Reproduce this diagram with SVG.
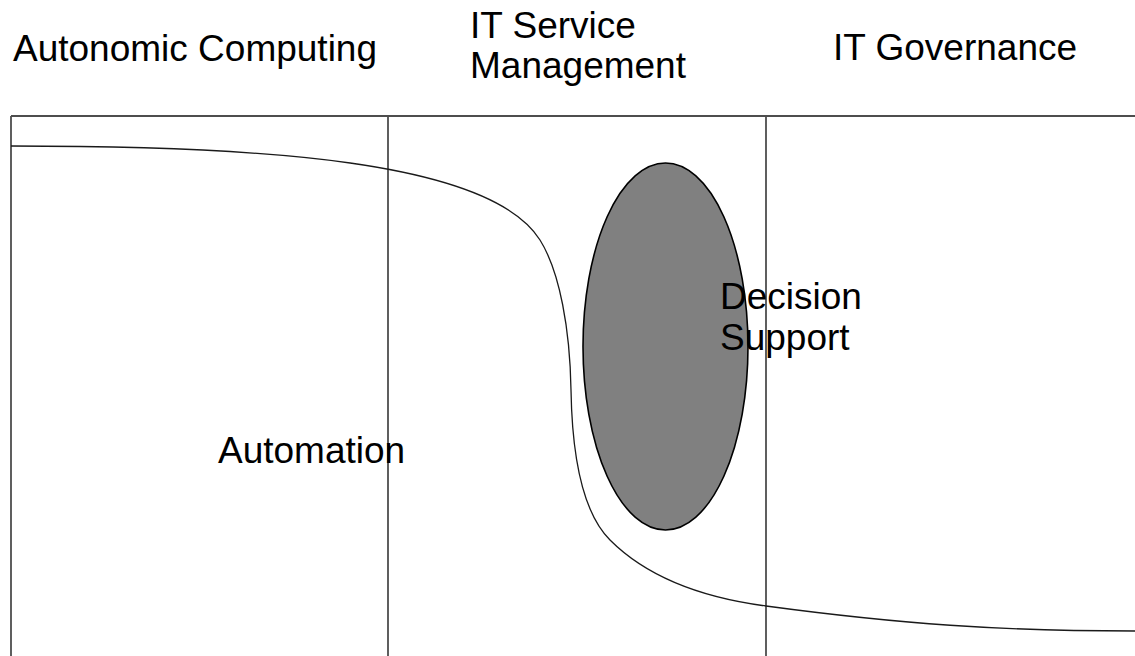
<svg xmlns="http://www.w3.org/2000/svg" width="1135" height="656" viewBox="0 0 1135 656">
  <style>
    .grid { stroke: #4d4d4d; stroke-width: 1.8; fill: none; }
    .boundary { stroke: #1a1a1a; stroke-width: 1.3; fill: none; }
    .label { font-family: "Liberation Sans", Arial, sans-serif; font-size: 37px; fill: #000; }
  </style>
  <rect width="1135" height="656" fill="#fff"/>

  <!-- column headings -->
  <g id="headings">
    <text class="label" x="13" y="61">Autonomic Computing</text>
    <text class="label" x="470" y="38">IT Service</text>
    <text class="label" x="470" y="78">Management</text>
    <text class="label" x="833" y="60">IT Governance</text>
  </g>

  <!-- frame and column dividers -->
  <g id="frame">
    <line class="grid" x1="11" y1="116" x2="1135" y2="116"/>
    <line class="grid" x1="11" y1="116" x2="11" y2="656"/>
    <line class="grid" x1="388" y1="116" x2="388" y2="656"/>
    <line class="grid" x1="766" y1="116" x2="766" y2="656"/>
  </g>

  <!-- boundary between automation and decision support -->
  <g id="boundary">
    <path class="boundary" d="M11,146 C260,146 490,160 540,240 C560,272 570,330 571,390 C572,450 580,510 610,540 C640,570 690,596 766,606 C900,624 1000,631 1135,631"/>
  </g>

  <g id="decision-support">
    <ellipse cx="665.5" cy="346.5" rx="82.5" ry="183.5" fill="#808080" stroke="#000" stroke-width="1.6"/>
    <text class="label" x="720" y="309">Decision</text>
    <text class="label" x="720" y="350">Support</text>
  </g>

  <g id="automation">
    <text class="label" x="218" y="463">Automation</text>
  </g>
</svg>
